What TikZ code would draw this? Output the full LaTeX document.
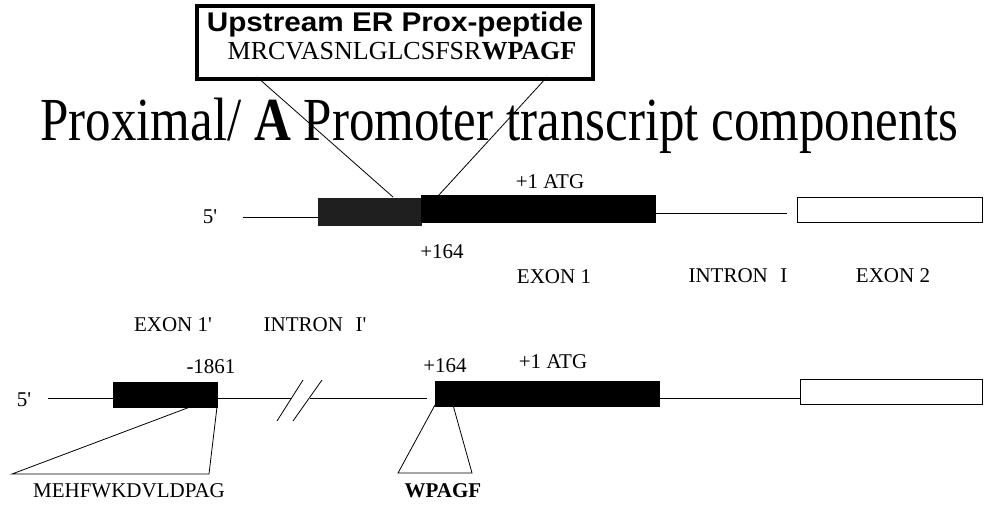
\documentclass[tikz,border=0pt]{standalone}
\usepackage{fontspec}
\setmainfont{Liberation Serif}
\newfontfamily\hdrfont{Liberation Sans}
\newcommand{\apos}{\textquotesingle}
\begin{document}
\begin{tikzpicture}[x=1pt,y=-1pt,
  lbl/.style={inner sep=0pt,font=\fontsize{21}{24}\selectfont},
  exonfill/.style={fill=black,draw=black},
  exonwhite/.style={fill=white,draw=black,line width=1pt},
  gene/.style={line width=1pt},
  ptr/.style={line width=0.8pt}]
\useasboundingbox (0,0) rectangle (984,507);
% peptide box
\node[draw=black,line width=4pt,minimum width=396pt,minimum height=73pt,anchor=north west,inner sep=0pt] (pbox) at (195,4) {};
\node[inner sep=0pt] (phead) at (395,25) {\scalebox{1.1}[1]{\hdrfont\bfseries\fontsize{27}{29}\selectfont Upstream ER Prox-peptide}};
\node[inner sep=0pt] (pseq) at (402,51) {\fontsize{26}{28}\selectfont MRCVASNLGLCSFSR\textbf{WPAGF}};
% title
\node[inner sep=0pt,anchor=base west] (title) at (40,140) {\scalebox{1}[1.2]{\fontsize{51}{56}\selectfont Proximal/ \textbf{A} Promoter transcript components}};
% top row
\node[lbl] (fiveA) at (210,217) {5\apos};
\coordinate (a0) at (243,217);
\coordinate (a1) at (318,217);
\draw[gene] (a0) -- (a1);
\node[fill=black!88,draw=black!88,anchor=north west,minimum width=103pt,minimum height=27pt,inner sep=0pt] (grayex) at (318,198) {};
\node[exonfill,anchor=north west,minimum width=234pt,minimum height=27pt,inner sep=0pt] (ex1) at (421,195) {};
\coordinate (a2) at (655,213);
\coordinate (a3) at (787,213);
\draw[gene] (a2) -- (a3);
\node[exonwhite,anchor=north west,minimum width=185pt,minimum height=25pt,inner sep=0pt] (ex2) at (797,197) {};
\coordinate (pl) at (257,77);
\coordinate (plb) at (393,197);
\coordinate (pr) at (547,77);
\coordinate (prb) at (438,196);
\draw[ptr] (pl) -- (plb);
\draw[ptr] (pr) -- (prb);
\node[lbl] (atgA) at (550,182) {+1 ATG};
\node[lbl] (p164A) at (442,252) {+164};
\node[lbl] (exon1) at (554,277) {EXON 1};
\node[lbl] (intron1) at (738,276) {INTRON\hspace{0.6em}I};
\node[lbl] (exon2) at (893,276) {EXON 2};
% bottom row
\node[lbl] (exon1p) at (173,325) {EXON 1\apos};
\node[lbl] (intron1p) at (315,325) {INTRON\hspace{0.6em}I\apos};
\node[lbl] (m1861) at (211,367) {-1861};
\node[lbl] (p164B) at (445,366) {+164};
\node[lbl] (atgB) at (553,362) {+1 ATG};
\node[lbl] (fiveB) at (24,400) {5\apos};
\coordinate (b0) at (48,398);
\coordinate (b1) at (113,398);
\draw[gene] (b0) -- (b1);
\node[exonfill,anchor=north west,minimum width=104pt,minimum height=25pt,inner sep=0pt] (ex1p) at (113,382) {};
\coordinate (b2) at (217,398);
\coordinate (b3) at (291,398);
\coordinate (b4) at (310,398);
\coordinate (b5) at (427,398);
\draw[gene] (b2) -- (b3);
\draw[gene] (b4) -- (b5);
\coordinate (s1a) at (277,421);
\coordinate (s1b) at (303,380);
\coordinate (s2a) at (293,421);
\coordinate (s2b) at (322,380);
\draw[ptr] (s1a) -- (s1b);
\draw[ptr] (s2a) -- (s2b);
\node[exonfill,anchor=north west,minimum width=224pt,minimum height=25pt,inner sep=0pt] (ex1b) at (435,381) {};
\coordinate (b6) at (659,398);
\coordinate (b7) at (800,398);
\draw[gene] (b6) -- (b7);
\node[exonwhite,anchor=north west,minimum width=182pt,minimum height=25pt,inner sep=0pt] (ex2b) at (800,379) {};
% triangles
\coordinate (t1) at (190,407);
\coordinate (t2) at (12,474);
\coordinate (t3) at (209,474);
\coordinate (t4) at (217,407);
\draw[ptr] (t1) -- (t2) -- (t3) -- (t4);
\coordinate (u1) at (435,405);
\coordinate (u2) at (398,473);
\coordinate (u3) at (472,473);
\coordinate (u4) at (453,405);
\draw[ptr] (u1) -- (u2) -- (u3) -- (u4);
\node[lbl] (pepA) at (129,491) {MEHFWKDVLDPAG};
\node[lbl] (pepB) at (443,491) {\textbf{WPAGF}};
\end{tikzpicture}
\end{document}
